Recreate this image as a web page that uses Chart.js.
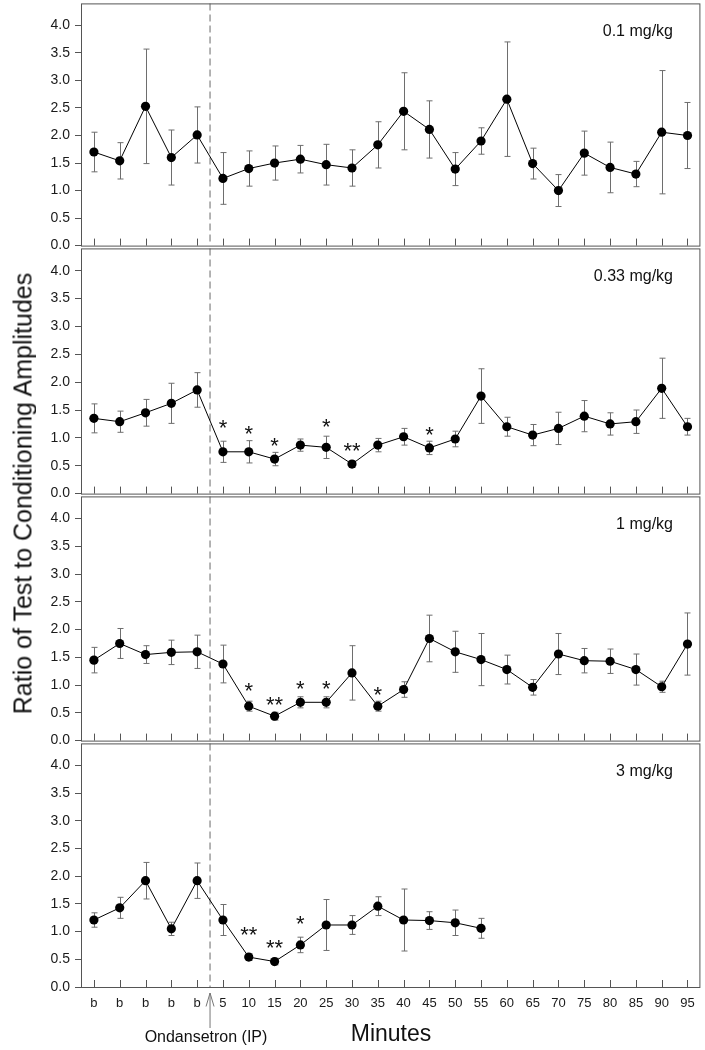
<!DOCTYPE html>
<html>
<head>
<meta charset="utf-8">
<script src="https://cdn.jsdelivr.net/npm/chart.js@4.4.1/dist/chart.umd.min.js"></script>
<style>
  body { margin:0; background:#fff; width:705px; height:1050px; position:relative; overflow:hidden;
         font-family:"Liberation Sans", Arial, sans-serif; color:#111; }
  canvas { position:absolute; left:0; }
  .txt { position:absolute; white-space:nowrap; text-align:center; }
  #ytitle { left:-277px; top:480.5px; width:600px; height:25px; line-height:25px; font-size:25px; transform:rotate(-90deg); }
  #xtitle { left:291px; top:1022px; width:200px; line-height:23px; font-size:23px; }
  #inj { left:106px; top:1029px; width:200px; line-height:16px; font-size:16px; }
</style>
</head>
<body>
<canvas id="c1"></canvas>
<canvas id="c2"></canvas>
<canvas id="c3"></canvas>
<canvas id="c4"></canvas>
<div class="txt" id="ytitle">Ratio of Test to Conditioning Amplitudes</div>
<div class="txt" id="xtitle">Minutes</div>
<div class="txt" id="inj">Ondansetron (IP)</div>
<script>
// categories: 5 baseline samples then minutes after injection
const minutes = ['b','b','b','b','b','5','10','15','20','25','30','35','40','45','50','55','60','65','70','75','80','85','90','95'];
const yTicks = [0, 0.5, 1, 1.5, 2, 2.5, 3, 3.5, 4];
const injectionAt = 4.5; // between last baseline and 5 min

// 0.1 mg/kg
const mean01 = [1.70,1.54,2.53,1.60,2.01, 1.22,1.40,1.50,1.57,1.47,1.41,1.83,2.44,2.11,1.39,1.90,2.66,1.49,1.00,1.68,1.42,1.30,2.06,2.00];
const sem01  = [0.36,0.33,1.04,0.50,0.51, 0.47,0.32,0.31,0.25,0.37,0.33,0.42,0.70,0.52,0.30,0.24,1.04,0.28,0.29,0.40,0.46,0.23,1.12,0.60];
const stars01 = [];

// 0.33 mg/kg
const mean033 = [1.35,1.29,1.45,1.62,1.86, 0.75,0.75,0.62,0.87,0.83,0.53,0.87,1.02,0.82,0.98,1.75,1.20,1.05,1.17,1.39,1.25,1.29,1.89,1.20];
const sem033  = [0.26,0.19,0.24,0.36,0.31, 0.19,0.20,0.12,0.11,0.20,0.06,0.12,0.15,0.12,0.14,0.49,0.17,0.19,0.29,0.28,0.20,0.21,0.54,0.15];
const stars033 = [[5,'*',1.28],[6,'*',1.18],[7,'*',0.96],[9,'*',1.30],[10,'**',0.86],[13,'*',1.15]];

// 1 mg/kg
const mean1 = [1.45,1.75,1.55,1.59,1.60, 1.38,0.62,0.44,0.69,0.69,1.22,0.62,0.92,1.84,1.60,1.46,1.28,0.96,1.56,1.44,1.43,1.28,0.97,1.74];
const sem1  = [0.23,0.27,0.16,0.22,0.30, 0.34,0.09,0.07,0.10,0.10,0.49,0.09,0.14,0.42,0.37,0.47,0.26,0.14,0.37,0.22,0.22,0.28,0.10,0.56];
const stars1 = [[6,'*',0.99],[7,'**',0.74],[8,'*',1.03],[9,'*',1.04],[11,'*',0.93]];

// 3 mg/kg (recording stops at 55 min)
const mean3 = [1.21,1.43,1.92,1.05,1.92, 1.21,0.54,0.46,0.76,1.12,1.12,1.46,1.21,1.20,1.16,1.06, null,null,null,null,null,null,null,null];
const sem3  = [0.13,0.19,0.33,0.12,0.32, 0.28,0.06,0.06,0.14,0.46,0.17,0.17,0.56,0.16,0.23,0.18, null,null,null,null,null,null,null,null];
const stars3 = [[6,'**',1.04],[7,'**',0.81],[8,'*',1.25]];

const FONT = '"Liberation Sans", Arial, sans-serif';
Chart.defaults.font.family = FONT;
Chart.defaults.color = '#1a1a1a';

const PAD = 12;
const panels = [
  { id:'c1', top:2,   bottom:247, label:'0.1 mg/kg',  mean:mean01,  sem:sem01,  stars:stars01 },
  { id:'c2', top:247, bottom:495, label:'0.33 mg/kg', mean:mean033, sem:sem033, stars:stars033 },
  { id:'c3', top:495, bottom:742, label:'1 mg/kg',    mean:mean1,   sem:sem1,   stars:stars1 },
  { id:'c4', top:742, bottom:987, label:'3 mg/kg',    mean:mean3,   sem:sem3,   stars:stars3, last:true }
];

function makeDeco(p){
  return {
    id: 'deco_' + p.id,
    beforeDatasetsDraw(chart){
      const {ctx, chartArea:a, scales:{x, y}} = chart;
      ctx.save();
      // injection marker
      const xd = x.getPixelForValue(injectionAt);
      ctx.strokeStyle = '#9c9c9c'; ctx.lineWidth = 1.5; ctx.setLineDash([7,4]);
      ctx.beginPath(); ctx.moveTo(xd, a.top); ctx.lineTo(xd, a.bottom); ctx.stroke();
      ctx.setLineDash([]);
      // error bars
      ctx.strokeStyle = '#6e6e6e'; ctx.lineWidth = 1;
      p.mean.forEach((m, i) => {
        if(m == null) return;
        const px = Math.round(x.getPixelForValue(i)) + 0.5;
        const t = y.getPixelForValue(m + p.sem[i]);
        const b = y.getPixelForValue(m - p.sem[i]);
        ctx.beginPath();
        ctx.moveTo(px, t); ctx.lineTo(px, b);
        ctx.moveTo(px - 3, t); ctx.lineTo(px + 3, t);
        ctx.moveTo(px - 3, b); ctx.lineTo(px + 3, b);
        ctx.stroke();
      });
      ctx.restore();
    },
    afterDraw(chart){
      const {ctx, chartArea:a, scales:{x, y}} = chart;
      ctx.save();
      ctx.strokeStyle = '#555'; ctx.lineWidth = 1;
      ctx.strokeRect(a.left + 0.5, a.top + 0.5, a.right - a.left - 1, a.bottom - a.top);
      // category tick marks point up into the panel
      ctx.beginPath();
      minutes.forEach((_, i) => {
        const px = Math.round(x.getPixelForValue(i)) + 0.5;
        ctx.moveTo(px, a.bottom); ctx.lineTo(px, a.bottom - 7);
      });
      ctx.stroke();
      // dose label
      ctx.fillStyle = '#111';
      ctx.font = '16px ' + FONT;
      ctx.textAlign = 'right'; ctx.textBaseline = 'middle';
      ctx.fillText(p.label, 673, a.top + 28);
      // significance stars
      ctx.font = '22px ' + FONT;
      ctx.textAlign = 'center'; ctx.textBaseline = 'alphabetic';
      p.stars.forEach(([i, s, v]) => {
        ctx.fillText(s, x.getPixelForValue(i), y.getPixelForValue(v) + 12.8);
      });
      if(p.last){
        const xd = x.getPixelForValue(injectionAt);
        ctx.strokeStyle = '#777';
        ctx.beginPath();
        ctx.moveTo(xd, a.bottom + 6); ctx.lineTo(xd, a.bottom + 41);
        ctx.moveTo(xd - 4, a.bottom + 19.5); ctx.lineTo(xd, a.bottom + 6); ctx.lineTo(xd + 4, a.bottom + 19.5);
        ctx.stroke();
      }
      ctx.restore();
    }
  };
}

panels.forEach(p => {
  const cv = document.getElementById(p.id);
  const top = p.top - PAD;
  const h = p.last ? 1050 - top : (p.bottom - p.top) + 2 * PAD;
  cv.width = 705; cv.height = h;
  cv.style.top = top + 'px';
  new Chart(cv.getContext('2d'), {
    type: 'line',
    data: {
      labels: minutes,
      datasets: [{
        data: p.mean,
        borderColor: '#000', borderWidth: 1,
        pointRadius: 4.6, pointBackgroundColor: '#000', pointBorderColor: '#000', pointBorderWidth: 0,
        spanGaps: false, tension: 0
      }]
    },
    options: {
      responsive: false, animation: false,
      layout: { padding: { top: PAD, bottom: p.last ? 0 : PAD, left: 0, right: 4 } },
      plugins: { legend: { display:false }, tooltip: { enabled:false } },
      scales: {
        x: {
          type: 'category', offset: true, display: !!p.last,
          grid: { display:false, drawTicks:false }, border: { display:false },
          ticks: { font: { size:13 }, color:'#1a1a1a', padding: 9, maxRotation:0, autoSkip:false },
          afterFit: s => { s.height = p.last ? 1050 - 987 : 0; }
        },
        y: {
          min: 0, max: 4.4,
          afterBuildTicks: s => { s.ticks = yTicks.map(v => ({ value: v })); },
          ticks: { font: { size:14 }, color:'#1a1a1a', padding: 5, callback: v => Number(v).toFixed(1) },
          grid: { drawOnChartArea:false, tickLength:6, color:'#555' },
          border: { display:false },
          afterFit: s => { s.width = 81; }
        }
      }
    },
    plugins: [makeDeco(p)]
  });
});
</script>
</body>
</html>
